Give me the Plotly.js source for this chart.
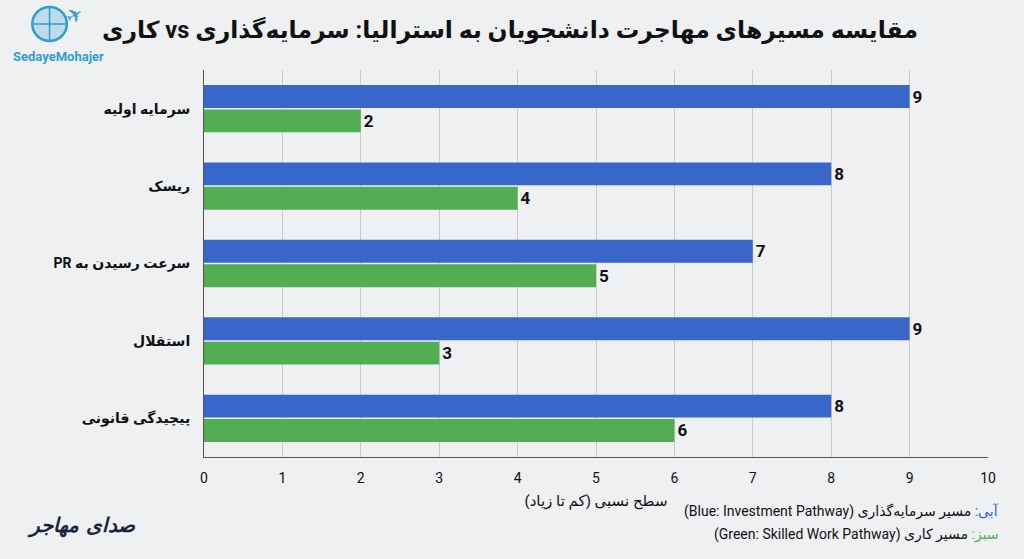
<!DOCTYPE html>
<html>
<head>
<meta charset="utf-8">
<script src="https://cdn.plot.ly/plotly-3.0.1.min.js"></script>
<style>
html,body{margin:0;padding:0;background:#eef0f2;}
#chart{width:1024px;height:559px;}
</style>
</head>
<body>
<div id="chart"></div>
<script>
const RLE = '\u202B', PDF = '\u202C';
const categories = ['سرمایه اولیه', 'ریسک', 'سرعت رسیدن به PR', 'استقلال', 'پیچیدگی قانونی'];
const investmentValues = [9, 8, 7, 9, 8];
const skilledWorkValues = [2, 4, 5, 3, 6];
const xTickValues = [0, 1, 2, 3, 4, 5, 6, 7, 8, 9, 10];

const BLUE = '#3867c9';
const GREEN = '#53ad53';
const LOGO = '#2f9fd0';
const FONT = 'Roboto, "DejaVu Sans", "Noto Sans", sans-serif';

const catLabels = categories.map(c => RLE + c + PDF);

const traces = [
  {
    type: 'bar', orientation: 'h', name: 'Investment',
    y: catLabels, x: investmentValues,
    marker: {color: BLUE},
    text: investmentValues.map(String), textposition: 'outside',
    textfont: {family: FONT, size: 17, color: '#111', weight: 'bold'},
    cliponaxis: false, hoverinfo: 'x'
  },
  {
    type: 'bar', orientation: 'h', name: 'Skilled Work',
    y: catLabels, x: skilledWorkValues,
    marker: {color: GREEN},
    text: skilledWorkValues.map(String), textposition: 'outside',
    textfont: {family: FONT, size: 17, color: '#111', weight: 'bold'},
    cliponaxis: false, hoverinfo: 'x'
  }
];

const layout = {
  width: 1024, height: 559,
  paper_bgcolor: '#eef0f2', plot_bgcolor: '#eef0f2',
  margin: {l: 204, r: 36, t: 70, b: 102},
  barmode: 'group', bargap: 0.37, bargroupgap: 0.06,
  showlegend: false,
  font: {family: FONT, color: '#111'},
  title: {
    text: RLE + 'مقایسه مسیرهای مهاجرت دانشجویان به استرالیا: سرمایه‌گذاری vs کاری' + PDF,
    font: {family: FONT, size: 23.5, color: '#111', weight: 'bold'},
    x: 0.498, xanchor: 'center', y: 0.947, yanchor: 'middle'
  },
  xaxis: {
    range: [0, 10], tickvals: xTickValues, ticktext: xTickValues.map(String),
    showgrid: true, gridcolor: '#c9cccf', gridwidth: 1,
    zeroline: false, showline: true, linecolor: '#555', linewidth: 1,
    ticks: '', ticklen: 0, ticklabelstandoff: 8,
    tickfont: {family: FONT, size: 14, color: '#111'},
    title: {text: RLE + 'سطح نسبی (کم تا زیاد)' + PDF, font: {family: FONT, size: 15, color: '#111'}, standoff: 10},
    fixedrange: true
  },
  yaxis: {
    autorange: 'reversed', type: 'category',
    showgrid: false, zeroline: false, showline: true, linecolor: '#555', linewidth: 1,
    ticks: '', ticklabelstandoff: 10,
    tickfont: {family: FONT, size: 14, color: '#111', weight: 'bold'},
    fixedrange: true
  },
  shapes: [
    {type: 'circle', xref: 'paper', yref: 'paper', x0: -0.219, x1: -0.175, y0: 1.075, y1: 1.163,
     line: {color: LOGO, width: 2.5}, fillcolor: 'rgba(80,170,220,0.3)'},
    {type: 'line', xref: 'paper', yref: 'paper', x0: -0.197, x1: -0.197, y0: 1.075, y1: 1.163,
     line: {color: LOGO, width: 1.5}},
    {type: 'line', xref: 'paper', yref: 'paper', x0: -0.219, x1: -0.175, y0: 1.119, y1: 1.119,
     line: {color: LOGO, width: 1.5}}
  ],
  annotations: [
    {text: '✈', xref: 'paper', yref: 'paper', x: -0.165, xanchor: 'center', y: 1.142, yanchor: 'middle', showarrow: false,
     font: {size: 20, color: LOGO}, textangle: -30},
    {text: 'SedayeMohajer', xref: 'paper', yref: 'paper', x: -0.186, xanchor: 'center', y: 1.036, yanchor: 'middle', showarrow: false,
     font: {family: FONT, size: 13, color: LOGO, weight: 'bold'}},
    {text: 'صدای مهاجر', xref: 'paper', yref: 'paper', x: -0.228, xanchor: 'left', y: -0.176, yanchor: 'middle', showarrow: false,
     font: {family: '"DejaVu Serif", serif', size: 20, color: '#1b2540', style: 'italic', weight: 'bold'}},
    {text: RLE + '<span style="color:' + BLUE + '">آبی:</span> مسیر سرمایه‌گذاری (Blue: Investment Pathway)' + PDF,
     xref: 'paper', yref: 'paper', x: 1.017, xanchor: 'right', y: -0.14, yanchor: 'middle', showarrow: false,
     font: {family: FONT, size: 14, color: '#111'}},
    {text: RLE + '<span style="color:' + GREEN + '">سبز:</span> مسیر کاری (Green: Skilled Work Pathway)' + PDF,
     xref: 'paper', yref: 'paper', x: 1.017, xanchor: 'right', y: -0.2, yanchor: 'middle', showarrow: false,
     font: {family: FONT, size: 14, color: '#111'}}
  ]
};

Plotly.newPlot('chart', traces, layout, {displayModeBar: false, staticPlot: true});
</script>
</body>
</html>
